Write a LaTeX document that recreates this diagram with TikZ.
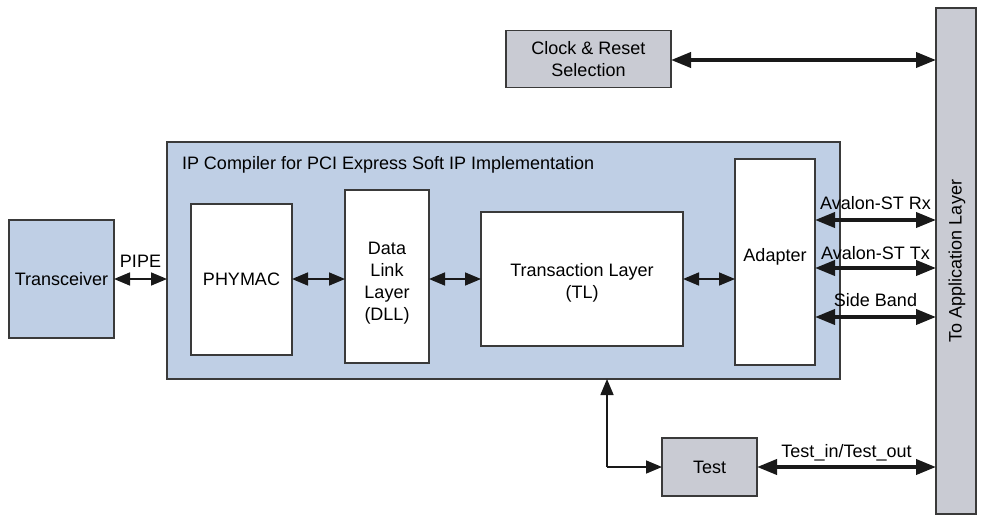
\documentclass[tikz,border=0pt]{standalone}
\usepackage{fontspec}
\setmainfont{Liberation Sans}
\usetikzlibrary{arrows.meta}
\definecolor{ipblue}{HTML}{BFCFE5}
\definecolor{boxgray}{HTML}{C9CBD3}
\definecolor{edge}{HTML}{3A3A3A}
\begin{document}
\begin{tikzpicture}[x=1pt,y=-1pt,
  every node/.style={inner sep=0pt,outer sep=0pt,font=\fontsize{18}{22}\selectfont},
  blk/.style={draw=edge,line width=1.4pt,fill=white,align=center},
  bluebox/.style={blk,fill=ipblue},
  graybox/.style={blk,fill=boxgray},
  thin/.style={line width=1.6pt,draw=black!90,{Triangle[length=16pt,width=13pt]}-{Triangle[length=16pt,width=13pt]}},
  thick/.style={line width=3.8pt,draw=black!90,{Triangle[length=20pt,width=15pt]}-{Triangle[length=20pt,width=15pt]}},
  onehead/.style={line width=1.6pt,draw=black!90,-{Triangle[length=16pt,width=13pt]}}]
\useasboundingbox (0,0) rectangle (985,524);
\node[bluebox,minimum width=105,minimum height=118] (trx) at (61.5,279) {Transceiver};
\node[bluebox,minimum width=673,minimum height=237] (ip) at (503.5,260.5) {};
\node[anchor=west] (iplbl) at (182,165) {IP Compiler for PCI Express Soft IP Implementation};
\node[blk,minimum width=101,minimum height=151] (phy) at (241.5,279.5) {PHYMAC};
\node[blk,minimum width=84,minimum height=173] (dll) at (387,276.5) {};
\node[align=center] (dlltxt) at (387,283) {Data\\Link\\Layer\\(DLL)};
\node[blk,minimum width=202,minimum height=134] (tl) at (582,279) {};
\node[align=center] (tltxt) at (582,283) {Transaction Layer\\(TL)};
\node[blk,minimum width=80,minimum height=206] (adp) at (775,262) {};
\node (adptxt) at (775,257) {Adapter};
\node[graybox,minimum width=40,minimum height=506] (app) at (956,261) {};
\node[rotate=90] (apptxt) at (957,261) {To Application Layer};
\node[graybox,minimum width=165,minimum height=57] (clk) at (588.5,59) {Clock \& Reset\\Selection};
\node[graybox,minimum width=95,minimum height=58] (test) at (709.5,467) {Test};
% connectors
\draw[thin] (trx.east |- 0,279) -- node[above=12pt] (pipe) {PIPE} (ip.west |- 0,279);
\draw[thin] (phy.east |- 0,279) -- (dll.west |- 0,279);
\draw[thin] (dll.east |- 0,279) -- (tl.west |- 0,279);
\draw[thin] (tl.east |- 0,279) -- (adp.west |- 0,279);
\draw[thick] (adp.east |- 0,220) -- node[above=10pt] (rx) {Avalon-ST Rx} (app.west |- 0,220);
\draw[thick] (adp.east |- 0,268) -- node[above=8pt] (tx) {Avalon-ST Tx} (app.west |- 0,268);
\draw[thick] (adp.east |- 0,317) -- node[above=10pt] (sb) {Side Band} (app.west |- 0,317);
\draw[thick] (clk.east |- 0,60) -- (app.west |- 0,60);
\draw[thick] (test.east) -- node[above=6pt] (tio) {Test\_in/Test\_out} (app.west |- test.east);
\coordinate (corner) at (607,467);
\draw[onehead] (corner) -- (ip.south -| corner);
\draw[onehead] (corner) -- (test.west);
\end{tikzpicture}
\end{document}
